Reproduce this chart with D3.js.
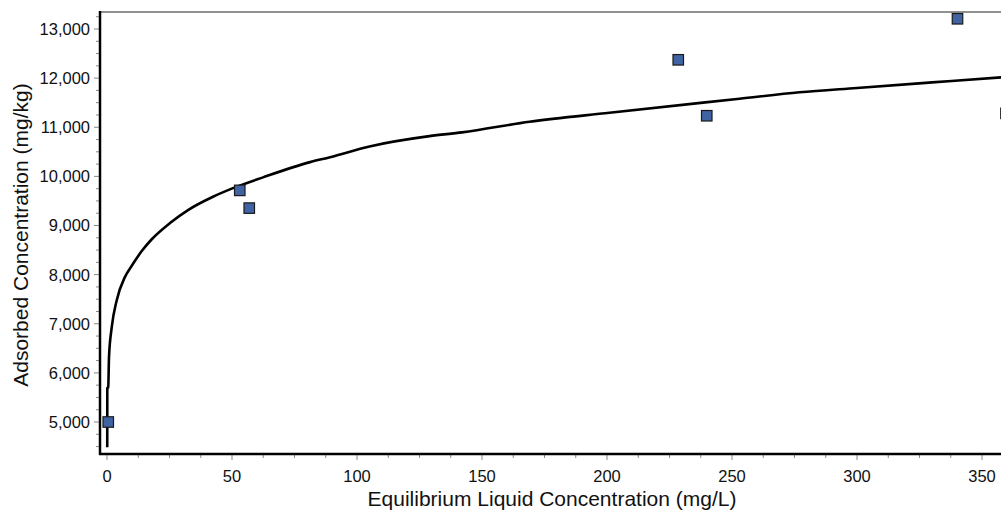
<!DOCTYPE html>
<html>
<head>
<meta charset="utf-8">
<script src="https://cdn.jsdelivr.net/npm/d3@7"></script>
<style>
  html, body { margin: 0; padding: 0; background: #fff; }
  svg { display: block; }
  text { font-family: "Liberation Sans", Arial, sans-serif; fill: #111; }
</style>
</head>
<body>
<svg id="chart" width="1001" height="510"></svg>
<script>
// ---- data ----
const pointC = [0.5, 53.1, 56.9, 228.5, 239.9, 340.2, 359.6];
const pointQ = [5000, 9715, 9354, 12373, 11234, 13208, 11283];

const curveC = [0.1, 0.12, 0.5, 0.8, 1.9, 3.9, 7.2, 9.9, 13.9, 17.9, 25.2, 32.4, 42.4, 50.4,
                62.4, 81.2, 89.2, 105, 129, 142, 169, 201, 253, 277, 300, 330, 357.6, 370];
const curveQ = [4487, 5690, 5710, 6320, 6930, 7480, 7955, 8180, 8480, 8720, 9050, 9314, 9585, 9760,
                9980, 10290, 10390, 10610, 10820, 10896, 11112, 11295, 11580, 11711, 11800, 11913, 12016, 12060];

const xTicks = [0, 50, 100, 150, 200, 250, 300, 350];
const yTicks = [5000, 6000, 7000, 8000, 9000, 10000, 11000, 12000, 13000];

const xTitle = "Equilibrium Liquid Concentration (mg/L)";
const yTitle = "Adsorbed Concentration (mg/kg)";

(function () {
const svg = d3.select("#chart");
const pLeft = 100, pTop = 12, pBottom = 454, pRight = 1010;

const x = d3.scaleLinear().domain([0, 350]).range([107, 982]);
const y = d3.scaleLinear().domain([5000, 13000]).range([422, 29]);

const xMinor = d3.range(0, 400, 12.5).filter(v => v % 50 !== 0 && x(v) < 1001);
const yMinor = d3.range(4500, 13500, 250).filter(v => v % 1000 !== 0 && y(v) < pBottom && y(v) > pTop);

const g = svg.append("g");
g.selectAll(".ymaj").data(yTicks).join("line")
  .attr("x1", pLeft - 6).attr("x2", pLeft).attr("y1", d => y(d)).attr("y2", d => y(d))
  .attr("stroke", "#888").attr("stroke-width", 1);
g.selectAll(".ymin").data(yMinor).join("line")
  .attr("x1", pLeft - 4).attr("x2", pLeft).attr("y1", d => y(d)).attr("y2", d => y(d))
  .attr("stroke", "#888").attr("stroke-width", 1);
g.selectAll(".xmaj").data(xTicks).join("line")
  .attr("x1", d => x(d)).attr("x2", d => x(d)).attr("y1", pBottom).attr("y2", pBottom + 6)
  .attr("stroke", "#888").attr("stroke-width", 1);
g.selectAll(".xmin").data(xMinor).join("line")
  .attr("x1", d => x(d)).attr("x2", d => x(d)).attr("y1", pBottom).attr("y2", pBottom + 4)
  .attr("stroke", "#888").attr("stroke-width", 1);

g.selectAll(".ylab").data(yTicks).join("text")
  .attr("x", 90).attr("y", d => y(d)).attr("dy", "0.36em")
  .attr("text-anchor", "end").attr("font-size", 16.5)
  .text(d => d3.format(",")(d));
g.selectAll(".xlab").data(xTicks).join("text")
  .attr("x", d => x(d)).attr("y", 482)
  .attr("text-anchor", "middle").attr("font-size", 16.5)
  .text(d => d);

svg.append("line").attr("x1", pLeft).attr("x2", pRight).attr("y1", pTop).attr("y2", pTop)
  .attr("stroke", "#222").attr("stroke-width", 1);

const line = d3.line().curve(d3.curveMonotoneX)
  .x((d, i) => x(curveC[i])).y((d, i) => y(curveQ[i]));
svg.append("path").datum(curveC).attr("d", line)
  .attr("fill", "none").attr("stroke", "#000").attr("stroke-width", 2.6)
  .attr("stroke-linejoin", "round");

svg.append("line").attr("x1", pLeft).attr("x2", pLeft).attr("y1", pTop - 1).attr("y2", pBottom + 1)
  .attr("stroke", "#000").attr("stroke-width", 2.5);
svg.append("line").attr("x1", pLeft - 1).attr("x2", pRight).attr("y1", pBottom).attr("y2", pBottom)
  .attr("stroke", "#000").attr("stroke-width", 2.5);

const s = 10.5;
svg.selectAll(".pt").data(pointC).join("rect")
  .attr("x", d => x(d) - s / 2)
  .attr("y", (d, i) => y(pointQ[i]) - s / 2)
  .attr("width", s).attr("height", s)
  .attr("fill", "#4063a3").attr("stroke", "#1a1a1a").attr("stroke-width", 1.2);

svg.append("text").attr("x", 552).attr("y", 506).attr("text-anchor", "middle")
  .attr("font-size", 21).text(xTitle);
svg.append("text").attr("transform", "translate(28,235) rotate(-90)")
  .attr("text-anchor", "middle").attr("font-size", 21).text(yTitle);
})();
</script>
</body>
</html>
